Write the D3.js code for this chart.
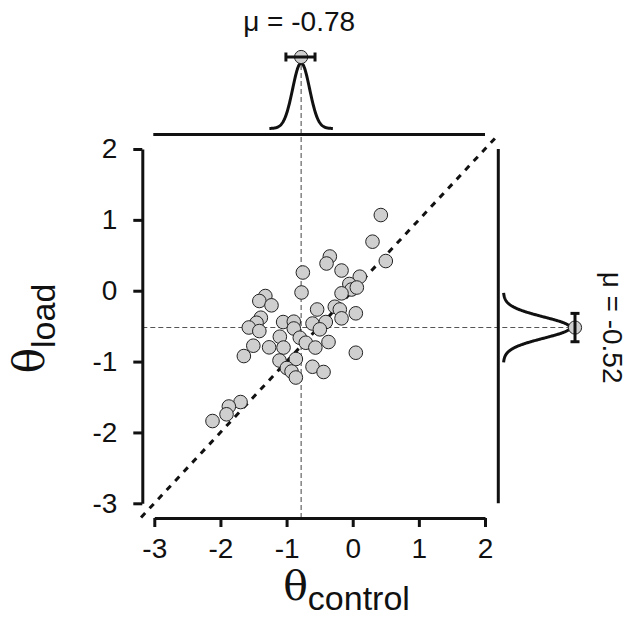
<!DOCTYPE html>
<html>
<head>
<meta charset="utf-8">
<script src="https://cdn.jsdelivr.net/npm/d3@7"></script>
<style>
  html, body { margin: 0; padding: 0; background: #ffffff; }
  svg { display: block; }
</style>
</head>
<body>
<div id="chart"></div>
<script>
// ---------------- data ----------------
const thetaControl = [0.425, 0.299, 0.500, -0.346, -0.396, -0.169, -0.754, 0.107, -0.051, -0.018,
  0.062, -0.169, -0.774, -1.321, -1.412, -1.228, -0.538, -0.271, -0.195, 0.047,
  -0.169, -1.389, -1.454, -1.571, -1.412, -1.052, -0.891, -0.891, -0.608, -0.407,
  -0.497, -1.102, -0.800, -0.709, -0.565, -0.366, -1.503, -1.264, -1.046, -1.646,
  -1.107, -0.860, -0.996, -0.925, -0.860, -0.608, -0.441, 0.047, -1.696, -1.873,
  -1.908, -2.120];
const thetaLoad = [1.068, 0.692, 0.419, 0.483, 0.384, 0.285, 0.257, 0.198, 0.095, 0.017,
  0.045, -0.037, -0.025, -0.075, -0.145, -0.206, -0.265, -0.226, -0.265, -0.319,
  -0.390, -0.381, -0.452, -0.519, -0.569, -0.442, -0.437, -0.533, -0.463, -0.442,
  -0.545, -0.649, -0.663, -0.734, -0.802, -0.724, -0.776, -0.799, -0.802, -0.922,
  -0.985, -0.964, -1.091, -1.140, -1.225, -1.073, -1.147, -0.875, -1.571, -1.634,
  -1.744, -1.839];
const xTicks = [-3, -2, -1, 0, 1, 2];
const yTicks = [-3, -2, -1, 0, 1, 2];
const identityLine = [-3.2, 2.2];
const muControl = -0.78;
const muLoad = -0.52;
const sdControl = 0.128;
const sdLoad = 0.15;
const ciControl = [-1.01, -0.57];
const ciLoad = [-0.72, -0.32];
const labelControl = "μ = -0.78";
const labelLoad = "μ = -0.52";

// ---------------- layout ----------------
const W = 638, H = 617;
const svg = d3.select("#chart").append("svg")
  .attr("width", W).attr("height", H)
  .style("background", "#fff");

const x = d3.scaleLinear().domain([-3, 2]).range([154.3, 485]);
const y = d3.scaleLinear().domain([-3, 2]).range([503.3, 149]);

const ink = "#111";
const sansFont = "'Liberation Sans', Arial, Helvetica, sans-serif";
const serifFont = "'DejaVu Serif', 'Liberation Serif', serif";
const numSize = 28;

// reference dashed lines
svg.append("line")
  .attr("x1", x(muControl)).attr("x2", x(muControl))
  .attr("y1", 57).attr("y2", 518)
  .attr("stroke", "#555").attr("stroke-width", 1.1).attr("stroke-dasharray", "5,3");
svg.append("line")
  .attr("x1", 142.3).attr("x2", 575)
  .attr("y1", y(muLoad)).attr("y2", y(muLoad))
  .attr("stroke", "#555").attr("stroke-width", 1.1).attr("stroke-dasharray", "5,3");

// identity line
svg.append("line")
  .attr("x1", x(identityLine[0])).attr("y1", y(identityLine[0]))
  .attr("x2", x(identityLine[1])).attr("y2", y(identityLine[1]))
  .attr("stroke", ink).attr("stroke-width", 3).attr("stroke-dasharray", "6,6.5");

// axes
const xAxis = svg.append("g")
  .attr("transform", "translate(0,518)")
  .call(d3.axisBottom(x).tickValues(xTicks).tickSize(9).tickSizeOuter(0).tickPadding(11)
    .tickFormat(d3.format("d")));
const yAxis = svg.append("g")
  .attr("transform", "translate(142.3,0)")
  .call(d3.axisLeft(y).tickValues(yTicks).tickSize(9).tickSizeOuter(0).tickPadding(16)
    .tickFormat(d3.format("d")));
[xAxis, yAxis].forEach(g => {
  g.attr("font-family", sansFont).attr("font-size", numSize);
  g.select(".domain").attr("stroke", ink).attr("stroke-width", 3);
  g.selectAll(".tick line").attr("stroke", ink).attr("stroke-width", 3);
  g.selectAll(".tick text").attr("fill", ink).text(d => d < 0 ? "-" + Math.abs(d) : String(d));
});

// marginal axis lines
svg.append("line")
  .attr("x1", x.range()[0] - 1).attr("x2", x.range()[1])
  .attr("y1", 134.5).attr("y2", 134.5)
  .attr("stroke", ink).attr("stroke-width", 3);
svg.append("line")
  .attr("x1", 498.3).attr("x2", 498.3)
  .attr("y1", y.range()[1]).attr("y2", y.range()[0])
  .attr("stroke", ink).attr("stroke-width", 3);

// marginal densities (normal posterior curves)
const pdf = (v, m, s) => Math.exp(-0.5 * ((v - m) / s) ** 2) / (s * Math.sqrt(2 * Math.PI));
const topGrid = d3.range(muControl - 0.48, muControl + 0.4801, 0.005);
const topH = d3.scaleLinear().domain([0, pdf(muControl, muControl, sdControl)]).range([128.5, 63]);
svg.append("path")
  .datum(topGrid)
  .attr("d", d3.line().x(v => x(v)).y(v => topH(pdf(v, muControl, sdControl))))
  .attr("fill", "none").attr("stroke", ink).attr("stroke-width", 3);

const rightGrid = d3.range(muLoad - 0.49, muLoad + 0.4901, 0.005);
const rightW = d3.scaleLinear().domain([0, pdf(muLoad, muLoad, sdLoad)]).range([503.3, 570]);
svg.append("path")
  .datum(rightGrid)
  .attr("d", d3.line().x(v => rightW(pdf(v, muLoad, sdLoad))).y(v => y(v)))
  .attr("fill", "none").attr("stroke", ink).attr("stroke-width", 3);

// scatter points
const pts = thetaControl.map((v, i) => ({ c: v, l: thetaLoad[i] }));
svg.append("g").selectAll("circle")
  .data(pts).join("circle")
  .attr("cx", d => x(d.c)).attr("cy", d => y(d.l))
  .attr("r", 6.8)
  .attr("fill", "#cfcfcf").attr("stroke", "#222").attr("stroke-width", 1);

// posterior mean points + intervals
svg.append("circle").attr("cx", x(muControl)).attr("cy", 57).attr("r", 6.6)
  .attr("fill", "#cfcfcf").attr("stroke", "#222").attr("stroke-width", 1);
svg.append("line").attr("x1", x(ciControl[0])).attr("x2", x(ciControl[1]))
  .attr("y1", 57).attr("y2", 57).attr("stroke", ink).attr("stroke-width", 3);
ciControl.forEach(v => svg.append("line").attr("x1", x(v)).attr("x2", x(v))
  .attr("y1", 52.5).attr("y2", 61.5).attr("stroke", ink).attr("stroke-width", 3));

svg.append("circle").attr("cx", 575).attr("cy", y(muLoad)).attr("r", 6.6)
  .attr("fill", "#cfcfcf").attr("stroke", "#222").attr("stroke-width", 1);
svg.append("line").attr("x1", 575).attr("x2", 575)
  .attr("y1", y(ciLoad[0])).attr("y2", y(ciLoad[1])).attr("stroke", ink).attr("stroke-width", 3);
ciLoad.forEach(v => svg.append("line").attr("x1", 570.5).attr("x2", 579.5)
  .attr("y1", y(v)).attr("y2", y(v)).attr("stroke", ink).attr("stroke-width", 3));

// mean labels
svg.append("text").attr("x", x(muControl) - 2).attr("y", 31)
  .attr("text-anchor", "middle").attr("font-family", sansFont).attr("font-size", numSize)
  .attr("fill", ink).text(labelControl);
svg.append("text")
  .attr("transform", `translate(603,${y(muLoad)}) rotate(90)`)
  .attr("text-anchor", "middle").attr("font-family", sansFont).attr("font-size", numSize)
  .attr("fill", ink).text(labelLoad);

// axis titles
const xt = svg.append("text").attr("transform", "translate(346.5,600)")
  .attr("text-anchor", "middle").attr("fill", ink);
xt.append("tspan").attr("font-family", serifFont).attr("font-size", 41).text("θ");
xt.append("tspan").attr("font-family", sansFont).attr("font-size", 34).attr("dy", 10).text("control");

const yt = svg.append("text").attr("transform", "translate(44,328.5) rotate(-90)")
  .attr("text-anchor", "middle").attr("fill", ink);
yt.append("tspan").attr("font-family", serifFont).attr("font-size", 42).text("θ");
yt.append("tspan").attr("font-family", sansFont).attr("font-size", 34).attr("dy", 11).text("load");
</script>
</body>
</html>
